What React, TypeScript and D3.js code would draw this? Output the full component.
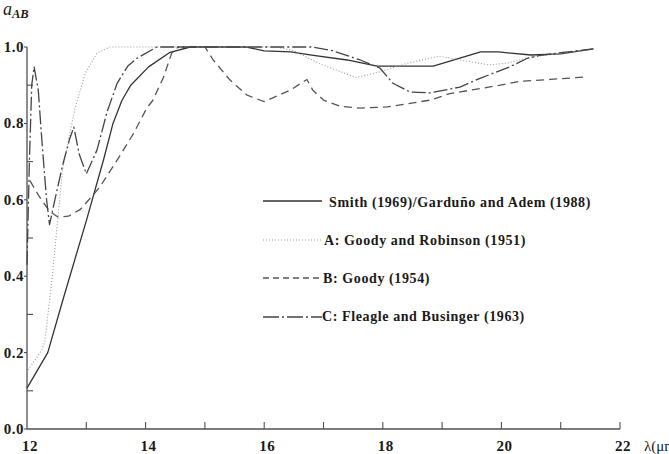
import React, { useEffect, useRef } from 'react';
import * as d3 from 'd3';

// wavelength (micrometres) / absorptivity pairs
const smithData: [number, number][] = [
  [12.0, 0.107], [12.35, 0.2], [12.6, 0.335], [13.0, 0.545], [13.3, 0.71],
  [13.45, 0.8], [13.6, 0.86], [13.75, 0.9], [14.05, 0.948], [14.4, 0.985],
  [14.75, 1.0], [15.7, 1.0], [16.0, 0.99], [16.45, 0.987], [16.8, 0.979],
  [17.4, 0.966], [17.9, 0.95], [18.85, 0.95], [19.65, 0.987], [19.95, 0.987],
  [20.5, 0.979], [21.0, 0.982], [21.55, 0.995]
];

const goodyRobinsonData: [number, number][] = [
  [12.02, 0.155], [12.25, 0.207], [12.3, 0.228], [12.42, 0.39], [12.6, 0.68],
  [12.81, 0.84], [12.98, 0.93], [13.18, 0.984], [13.4, 1.0], [16.2, 1.0],
  [16.5, 0.99], [16.95, 0.955], [17.55, 0.92], [17.95, 0.935], [18.4, 0.957],
  [18.95, 0.976], [19.45, 0.962], [19.8, 0.953], [20.1, 0.958], [20.5, 0.974],
  [21.0, 0.983], [21.55, 0.995]
];

const goodyData: [number, number][] = [
  [12.05, 0.65], [12.2, 0.61], [12.38, 0.57], [12.52, 0.555], [12.7, 0.557],
  [12.9, 0.575], [13.1, 0.61], [13.23, 0.634], [13.52, 0.704], [13.79, 0.772],
  [14.02, 0.84], [14.12, 0.86], [14.3, 0.92], [14.44, 0.984], [14.55, 1.0],
  [15.0, 1.0], [15.14, 0.966], [15.42, 0.914], [15.71, 0.874], [16.0, 0.857],
  [16.44, 0.887], [16.72, 0.915], [16.82, 0.887], [17.0, 0.861], [17.28, 0.845],
  [17.62, 0.84], [18.07, 0.843], [18.8, 0.861], [19.13, 0.878], [19.98, 0.9],
  [20.31, 0.91], [20.82, 0.915], [21.46, 0.922]
];

const fleagleData: [number, number][] = [
  [12.0, 0.43], [12.04, 0.7], [12.08, 0.9], [12.12, 0.948], [12.19, 0.887],
  [12.25, 0.757], [12.33, 0.6], [12.38, 0.535], [12.47, 0.6], [12.6, 0.69],
  [12.72, 0.76], [12.79, 0.79], [12.88, 0.72], [13.0, 0.668], [13.18, 0.73],
  [13.35, 0.83], [13.52, 0.905], [13.7, 0.95], [13.85, 0.97], [14.19, 1.0],
  [16.8, 1.0], [17.16, 0.99], [17.62, 0.966], [17.95, 0.945], [18.17, 0.905],
  [18.46, 0.882], [18.8, 0.88], [19.3, 0.895], [19.64, 0.918], [20.14, 0.948],
  [20.43, 0.97], [20.65, 0.978], [21.0, 0.985], [21.55, 0.995]
];

const legendLabels = [
  'Smith (1969)/Garduño and Adem (1988)',
  'A: Goody and Robinson (1951)',
  'B: Goody (1954)',
  'C: Fleagle and Businger (1963)'
];

const xTickLabels = [12, 14, 16, 18, 20, 22];
const yTickLabels = [0.0, 0.2, 0.4, 0.6, 0.8, 1.0];

function App() {
  const svgRef = useRef<SVGSVGElement>(null);

  useEffect(() => {
    if (!svgRef.current) return;
    document.body.style.margin = '0';

    const width = 669;
    const height = 454;
    const svg = d3.select(svgRef.current);
    svg.selectAll('*').remove();
    svg.attr('width', width).attr('height', height);

    const x = d3.scaleLinear().domain([12, 22]).range([27, 620]);
    const y = d3.scaleLinear().domain([0, 1]).range([429, 47]);

    const font = '"Liberation Serif", "DejaVu Serif", serif';
    const axisColor = '#505050';

    // axes lines
    svg.append('line')
      .attr('x1', x(12)).attr('x2', x(22))
      .attr('y1', y(0)).attr('y2', y(0))
      .attr('stroke', axisColor).attr('stroke-width', 1.3);
    svg.append('line')
      .attr('x1', x(12)).attr('x2', x(12))
      .attr('y1', y(0)).attr('y2', y(1))
      .attr('stroke', axisColor).attr('stroke-width', 1.3);

    // x ticks every unit, labels every 2
    d3.range(13, 23).forEach(v => {
      svg.append('line')
        .attr('x1', x(v)).attr('x2', x(v))
        .attr('y1', y(0)).attr('y2', y(0) - 7)
        .attr('stroke', axisColor).attr('stroke-width', 1.1);
    });
    xTickLabels.forEach(v => {
      svg.append('text')
        .attr('x', x(v) + 3)
        .attr('y', 451)
        .attr('text-anchor', 'middle')
        .attr('font-family', font)
        .attr('font-weight', 'bold')
        .attr('font-size', 15)
        .attr('letter-spacing', 0.5)
        .attr('fill', '#1a1a1a')
        .text(v);
    });

    // y ticks: majors go out, minors go in
    yTickLabels.forEach(v => {
      svg.append('line')
        .attr('x1', x(12) - 3).attr('x2', x(12))
        .attr('y1', y(v)).attr('y2', y(v))
        .attr('stroke', axisColor).attr('stroke-width', 1.1);
      svg.append('text')
        .attr('x', 24)
        .attr('y', y(v) + 5)
        .attr('text-anchor', 'end')
        .attr('font-family', font)
        .attr('font-weight', 'bold')
        .attr('font-size', 15)
        .attr('letter-spacing', 0.5)
        .attr('fill', '#1a1a1a')
        .text(v.toFixed(1));
    });
    [0.1, 0.3, 0.5, 0.7, 0.9].forEach(v => {
      svg.append('line')
        .attr('x1', x(12)).attr('x2', x(12) + 6)
        .attr('y1', y(v)).attr('y2', y(v))
        .attr('stroke', axisColor).attr('stroke-width', 1.1);
    });

    // axis titles
    const yTitle = svg.append('text')
      .attr('x', 3).attr('y', 15)
      .attr('font-family', font)
      .attr('font-style', 'italic')
      .attr('fill', '#1a1a1a');
    yTitle.append('tspan').attr('font-size', 18).text('a');
    yTitle.append('tspan').attr('font-size', 12.5).attr('dy', 2.5).attr('font-weight', 'bold').text('AB');

    // the reference crops this title at the right edge
    svg.append('text')
      .attr('x', 644).attr('y', 451)
      .attr('font-family', font)
      .attr('font-size', 15)
      .attr('fill', '#1a1a1a')
      .text('λ(μm)');

    const line = d3.line<[number, number]>()
      .x(d => x(d[0]))
      .y(d => y(d[1]));

    const styles = [
      { data: smithData, color: '#333', width: 1.3, dash: null },
      { data: goodyRobinsonData, color: '#9a9a9a', width: 1.1, dash: '1,2' },
      { data: goodyData, color: '#555', width: 1.3, dash: '8,5' },
      { data: fleagleData, color: '#444', width: 1.3, dash: '14,3,2,3' }
    ];

    styles.forEach(s => {
      const p = svg.append('path')
        .attr('d', line(s.data))
        .attr('fill', 'none')
        .attr('stroke', s.color)
        .attr('stroke-width', s.width)
        .attr('stroke-linejoin', 'round');
      if (s.dash) p.attr('stroke-dasharray', s.dash);
    });

    // legend
    const legendRows = [
      { x1: 263, x2: 322, ly: 201, tx: 329, ty: 207 },
      { x1: 263, x2: 322, ly: 240, tx: 324, ty: 245 },
      { x1: 263, x2: 322, ly: 278, tx: 323, ty: 283 },
      { x1: 263, x2: 322, ly: 317, tx: 322, ty: 321 }
    ];
    const legendDash = [null, '1,2', '6,4', '16,3,2,3'];

    legendLabels.forEach((label, i) => {
      const r = legendRows[i];
      const s = styles[i];
      const l = svg.append('line')
        .attr('x1', r.x1).attr('x2', r.x2)
        .attr('y1', r.ly).attr('y2', r.ly)
        .attr('stroke', s.color)
        .attr('stroke-width', s.width);
      if (legendDash[i]) l.attr('stroke-dasharray', legendDash[i]);
      svg.append('text')
        .attr('x', r.tx).attr('y', r.ty)
        .attr('font-family', font)
        .attr('font-weight', 'bold')
        .attr('font-size', 14)
        .attr('letter-spacing', 0.6)
        .attr('fill', '#1a1a1a')
        .text(label);
    });
  }, []);

  return (
    <div style={{ position: 'absolute', left: 0, top: 0 }}>
      <svg ref={svgRef} style={{ display: 'block', background: '#fff' }}></svg>
    </div>
  );
}

export default App;
